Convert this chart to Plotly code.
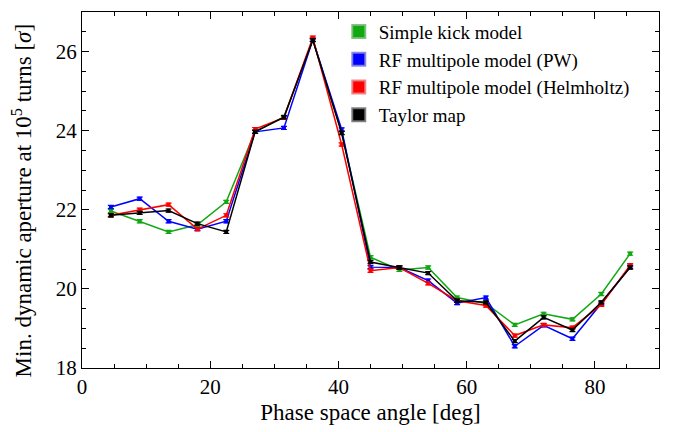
import plotly.graph_objects as go

angle = [4.5, 9, 13.5, 18, 22.5, 27, 31.5, 36, 40.5, 45, 49.5, 54, 58.5, 63, 67.5, 72, 76.5, 81, 85.5]

simple_kick = [21.97, 21.71, 21.44, 21.62, 22.20, 23.98, 24.35, 26.30, 23.95, 20.80, 20.48, 20.54, 19.78, 19.63, 19.09, 19.37, 19.23, 19.87, 20.89]
rf_pw = [22.07, 22.28, 21.71, 21.51, 21.71, 23.97, 24.07, 26.30, 24.03, 20.55, 20.54, 20.21, 19.64, 19.78, 18.55, 19.08, 18.74, 19.63, 20.56]
rf_helm = [21.86, 22.00, 22.13, 21.51, 21.86, 24.04, 24.33, 26.35, 23.65, 20.46, 20.54, 20.14, 19.70, 19.58, 18.82, 19.09, 19.02, 19.60, 20.60]
taylor = [21.86, 21.92, 21.98, 21.65, 21.44, 23.97, 24.34, 26.29, 23.94, 20.68, 20.54, 20.40, 19.70, 19.66, 18.68, 19.28, 18.96, 19.66, 20.54]
err = 0.04

names = ["Simple kick model", "RF multipole model (PW)", "RF multipole model (Helmholtz)", "Taylor map"]
series = [simple_kick, rf_pw, rf_helm, taylor]
colors = ["#12a812", "#0000ff", "#ff0000", "#000000"]
legend_borders = ["rgba(120,190,120,0.9)", "rgba(130,130,230,0.9)", "rgba(235,130,130,0.9)", "rgba(120,120,120,0.9)"]

font = "Liberation Serif"
fig = go.Figure()
for name, ys, c in zip(names, series, colors):
    fig.add_trace(go.Scatter(
        x=angle, y=ys, mode="lines+markers", showlegend=False,
        line=dict(color=c, width=1.5),
        marker=dict(symbol="square", size=4, color=c),
        error_y=dict(type="constant", value=err, color=c, thickness=1.2, width=3),
    ))
for name, c, b in zip(names, colors, legend_borders):
    fig.add_trace(go.Scatter(
        x=[None], y=[None], mode="markers", name=name,
        marker=dict(symbol="square", size=13, color=c, line=dict(color=b, width=2)),
    ))

axis_common = dict(
    showline=True, linecolor="black", linewidth=1, mirror="ticks",
    ticks="inside", ticklen=7, tickwidth=1, tickcolor="black",
    showgrid=False, zeroline=False,
    tickfont=dict(family=font, size=21, color="black"),
)
fig.update_xaxes(range=[0, 90], dtick=20, tick0=0,
                 minor=dict(dtick=5, ticks="inside", ticklen=4, tickcolor="black"),
                 title=dict(text="Phase space angle [deg]", font=dict(family=font, size=23, color="black"), standoff=5),
                 **axis_common)
fig.update_yaxes(range=[18, 27], dtick=2, tick0=18,
                 minor=dict(dtick=0.5, ticks="inside", ticklen=4, tickcolor="black"),
                 **axis_common)

fig.add_annotation(text="Min. dynamic aperture at 10<sup>5</sup> turns [<i>σ</i>]",
                   textangle=-90, x=0, y=0.468, xref="paper", yref="paper",
                   xanchor="center", yanchor="middle", xshift=-60, showarrow=False,
                   font=dict(family=font, size=23, color="black"))

fig.update_layout(
    width=678, height=432,
    margin=dict(l=82, r=19, t=12, b=64, autoexpand=False),
    paper_bgcolor="white", plot_bgcolor="white",
    font=dict(family=font, color="black"),
    legend=dict(x=0.445, y=0.998, xanchor="left", yanchor="top",
                bgcolor="rgba(0,0,0,0)", font=dict(family=font, size=19, color="black"),
                tracegroupgap=0, itemwidth=30),
)
fig.write_html("out.html")
